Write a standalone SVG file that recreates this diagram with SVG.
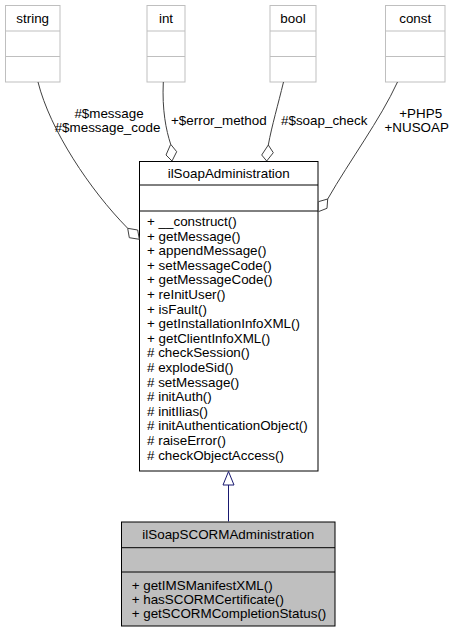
<svg xmlns="http://www.w3.org/2000/svg" width="457" height="633" viewBox="0 0 457 633">
<style>
text{font-family:"Liberation Sans",Arial,sans-serif;font-size:13.4px;fill:#000}
.c{text-anchor:middle}
.ext{fill:#fff;stroke:#bfbfbf;stroke-width:1}
.box{fill:#fff;stroke:#000;stroke-width:1}
.sub{fill:#bfbfbf;stroke:#000;stroke-width:1}
.e{fill:none;stroke:#404040;stroke-width:1}
.d{fill:#fff;stroke:#404040;stroke-width:1}
</style>
<rect width="457" height="633" fill="#fff"/>
<g id="string">
<rect class="ext" x="5.5" y="5.5" width="54.5" height="76.5"/>
<line class="ext" x1="5.5" y1="31" x2="60" y2="31"/>
<line class="ext" x1="5.5" y1="56.5" x2="60" y2="56.5"/>
<text class="c" x="32.7" y="22.5">string</text>
</g>
<g id="int">
<rect class="ext" x="147" y="5.5" width="38" height="76.5"/>
<line class="ext" x1="147" y1="31" x2="185" y2="31"/>
<line class="ext" x1="147" y1="56.5" x2="185" y2="56.5"/>
<text class="c" x="166" y="22.5">int</text>
</g>
<g id="bool">
<rect class="ext" x="270" y="5.5" width="46" height="76.5"/>
<line class="ext" x1="270" y1="31" x2="316" y2="31"/>
<line class="ext" x1="270" y1="56.5" x2="316" y2="56.5"/>
<text class="c" x="293" y="22.5">bool</text>
</g>
<g id="const">
<rect class="ext" x="385.5" y="5.5" width="59.5" height="76.5"/>
<line class="ext" x1="385.5" y1="31" x2="445" y2="31"/>
<line class="ext" x1="385.5" y1="56.5" x2="445" y2="56.5"/>
<text class="c" x="415.2" y="22.5">const</text>
</g>
<g id="ilSoapAdministration">
<rect class="box" x="139.5" y="161.5" width="178.5" height="309.5"/>
<line class="box" x1="139.5" y1="185" x2="318" y2="185"/>
<line class="box" x1="139.5" y1="211" x2="318" y2="211"/>
<text class="c" x="228.7" y="178">ilSoapAdministration</text>
<text x="147" y="226">+ __construct()</text>
<text x="147" y="240.6">+ getMessage()</text>
<text x="147" y="255.2">+ appendMessage()</text>
<text x="147" y="269.8">+ setMessageCode()</text>
<text x="147" y="284.4">+ getMessageCode()</text>
<text x="147" y="299">+ reInitUser()</text>
<text x="147" y="313.6">+ isFault()</text>
<text x="147" y="328.2">+ getInstallationInfoXML()</text>
<text x="147" y="342.8">+ getClientInfoXML()</text>
<text x="147" y="357.4"># checkSession()</text>
<text x="147" y="372"># explodeSid()</text>
<text x="147" y="386.6"># setMessage()</text>
<text x="147" y="401.2"># initAuth()</text>
<text x="147" y="415.8"># initIlias()</text>
<text x="147" y="430.4"># initAuthenticationObject()</text>
<text x="147" y="445"># raiseError()</text>
<text x="147" y="459.6"># checkObjectAccess()</text>
</g>
<g id="ilSoapSCORMAdministration">
<rect class="sub" x="121.5" y="522" width="213.5" height="104"/>
<line class="sub" x1="121.5" y1="547.7" x2="335" y2="547.7"/>
<line class="sub" x1="121.5" y1="572" x2="335" y2="572"/>
<text class="c" x="228.3" y="539">ilSoapSCORMAdministration</text>
<text x="131.7" y="589.5">+ getIMSManifestXML()</text>
<text x="131.7" y="603.7">+ hasSCORMCertificate()</text>
<text x="131.7" y="617.9">+ getSCORMCompletionStatus()</text>
</g>
<g id="connectors">
<path class="e" d="M38,82 C50,130 90,190 127.7,228.3"/>
<polygon class="d" points="127.7,228.3 137.7,230 139.3,239.3 129.3,237.7"/>
<path class="e" d="M163.3,82 C162,110 166,130 170.7,144.3"/>
<polygon class="d" points="170.7,144.3 176.7,151.7 172,161 166,155"/>
<path class="e" d="M283.5,82 C278,105 272,125 268.3,145"/>
<polygon class="d" points="268.3,145 273.3,152.7 266.7,161 261.7,155"/>
<path class="e" d="M397.5,82 C380,120 350,160 327.7,199"/>
<polygon class="d" points="327.7,199 327,208.3 318.3,211.7 318.3,201.7"/>
<line x1="228.5" y1="521.5" x2="228.5" y2="485" stroke="#191970" stroke-width="1"/>
<polygon points="228.5,471.5 234,485 223,485" fill="#fff" stroke="#191970" stroke-width="1"/>
<text class="c" x="109" y="118">#$message</text>
<text class="c" x="107.5" y="132">#$message_code</text>
<text x="171" y="124.5">+$error_method</text>
<text x="281" y="124.5">#$soap_check</text>
<text class="c" x="420.7" y="118">+PHP5</text>
<text class="c" x="416.7" y="132">+NUSOAP</text>
</g>
</svg>
